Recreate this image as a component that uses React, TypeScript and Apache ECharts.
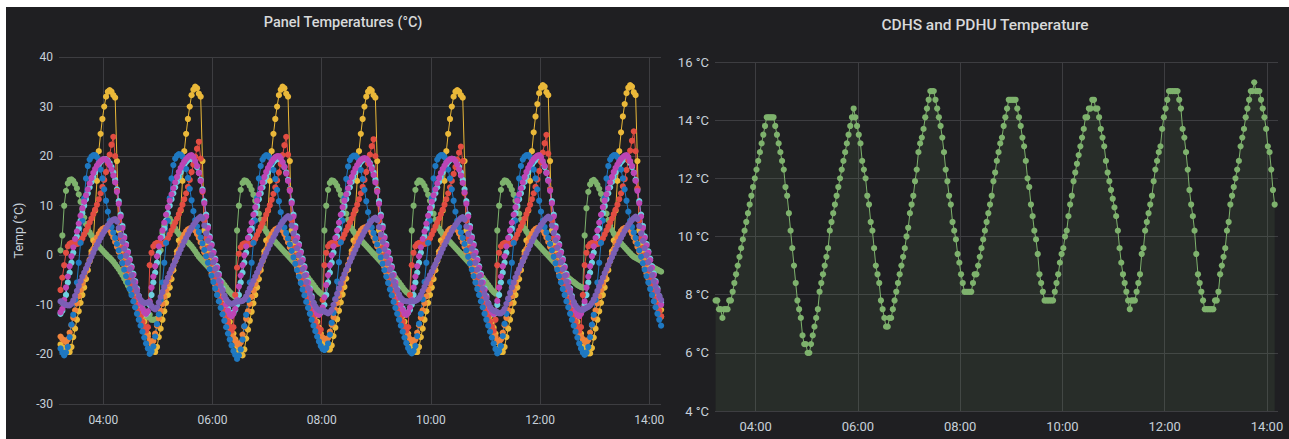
import React, { useEffect, useRef } from "react";
import * as echarts from "echarts";

// Time grid: one sample every 2 minutes starting 03:13 (minutes since midnight)
const START_MINUTE = 193;
const STEP_MINUTES = 2;
const timeTicks = [240, 360, 480, 600, 720, 840];

// ---------------- Left panel: Panel Temperatures (°C) ----------------
const panelGreen = [
  1, 4, 10, 13, 14.5, 15.2, 15.3, 15, 14.4, 13.5, 12.3, 10.8, 9.2, 7.6, 6.3, 5.3, 4.6, 4, 3.4, 2.8, 2.3, 1.8, 1.4, 1, 0.6, 0.2, -0.2, -0.5, -0.9, -1.3, -1.8, -2.3, -2.8, -3.4, -4, -4.7, -5.4, -6.1, -6.8, -7.5, -8.2, -8.9, -9.6, -10.3, -11, -11.6, -12, -12.3, -12.5,
  -12, -13, -13, -13, -12.8, -12.5, 1, 4.5, 6, 7, 7.6, 7.4, 6.8, 6.1, 5.4, 4.8, 4.3, 3.9, 3.5, 3.2, 2.9, 2.6, 2.2, 1.8, 1.3, 0.8, 0.2, -0.3, -0.7, -1.1, -1.5, -1.9, -2.3, -2.7, -3.1, -3.5, -3.9, -4.3, -4.7, -5.1, -5.5, -6, -6.5, -7, -7.4, -7.8, -8.1, -8.4,
  5, 10, 13.2, 14.6, 15.1, 15, 14.6, 14, 13.2, 12.2, 11, 9.7, 8.4, 7.2, 6.2, 5.4, 4.8, 4.3, 3.9, 3.5, 3.1, 2.7, 2.3, 1.9, 1.5, 1.1, 0.7, 0.3, -0.1, -0.5, -0.9, -1.3, -1.7, -2.1, -2.5, -2.9, -3.3, -3.7, -4.1, -4.5, -5, -5.5, -6, -6.5, -7, -7.4, -7.7, -8,
  5, 10, 13.2, 14.6, 15.1, 15, 14.6, 14, 13.2, 12.2, 11, 9.7, 8.4, 7.2, 6.2, 5.4, 4.8, 4.3, 3.9, 3.5, 3.1, 2.7, 2.3, 1.9, 1.5, 1.1, 0.7, 0.3, -0.1, -0.5, -0.9, -1.3, -1.7, -2.1, -2.5, -2.9, -3.3, -3.7, -4.1, -4.5, -5, -5.5, -6, -6.5, -7, -7.4, -7.7, -8,
  5, 10, 13.2, 14.6, 15.1, 15, 14.6, 14, 13.2, 12.2, 11, 9.7, 8.4, 7.2, 6.2, 5.4, 4.8, 4.3, 3.9, 3.5, 3.1, 2.7, 2.3, 1.9, 1.5, 1.1, 0.7, 0.3, -0.1, -0.5, -0.9, -1.3, -1.7, -2.1, -2.5, -2.9, -3.3, -3.7, -4.1, -4.5, -5, -5.5, -6, -6.5, -7, -7.4, -7.7,
  5, 10, 13.2, 14.6, 15.1, 15, 14.6, 14, 13.2, 12.2, 11, 9.7, 8.4, 7.2, 6.2, 5.4, 4.8, 4.3, 3.9, 3.5, 3.1, 2.7, 2.3, 1.9, 1.5, 1.1, 0.7, 0.3, -0.1, -0.5, -0.9, -1.3, -1.7, -2.1, -2.5, -2.9, -3.3, -3.7, -4.1, -4.5, -4.8, -5.1, -5.4, -5.7, -6, -6.2, -6.4, -6.5,
  4, 9.5, 12.8, 14.3, 15, 15.2, 14.8, 14.2, 13.4, 12.4, 11.2, 9.8, 8.4, 7.1, 6, 5.1, 4.4, 3.8, 3.3, 2.8, 2.4, 2, 1.6, 1.2, 0.8, 0.4, 0, -0.3, -0.5, -0.7, -0.9, -1.1, -1.3, -1.5, -1.7, -1.9, -2.1, -2.3, -2.5, -2.7, -2.9, -3.1, -3.3,
];

const panelYellow = [
  -18, -18.6,
  -18.8, -19.2, -19.5, -19.5, -18.5, -16.5, -14.8, -13, -11.3, -9.6, -8, -6.5, -4.8, -3, -1.2, 0.8, 3, 9, 15, 21, 24.5, 27.5, 30, 32, 33, 33.3, 33, 32.3, 31.8, 19, 5, 2.5, 1, -0.2, -1.4, -2.6, -3.8, -5, -6.2, -7.4, -8.6, -9.8, -11, -12.2, -13.4, -14.6, -15.8,
  -17.5, -18.5, -19.3, -19.5, -18.5, -16.5, -14.8, -13, -11.3, -9.6, -8, -6.5, -4.8, -3, -1.2, 0.8, 3, 9, 15, 21, 24.5, 27.5, 30, 32.3, 33.4, 34, 33.7, 32.6, 32, 19, 5, 2.5, 1, -0.2, -1.4, -2.6, -3.8, -5, -6.2, -7.4, -8.6, -9.8, -11, -12.2, -13.4, -14.6, -15.8, -17,
  -18.3, -19.3, -20, -20.2, -19, -16.8, -15, -13.2, -11.4, -9.7, -8, -6.5, -4.8, -3, -1.2, 0.8, 3, 9, 15, 21, 24.5, 27.5, 30, 32.3, 33.4, 34, 33.7, 32.6, 32, 19, 5, 2.5, 1, -0.2, -1.4, -2.6, -3.8, -5, -6.2, -7.4, -8.6, -9.8, -11, -12.2, -13.4, -14.6, -15.8, -17,
  -18, -18.7, -19, -19, -18.2, -16.3, -14.6, -12.9, -11.2, -9.5, -7.9, -6.4, -4.7, -2.9, -1.1, 0.9, 3, 9, 15, 21, 24.5, 27.5, 30, 32, 33, 33.5, 33.2, 32.3, 31.8, 19, 5, 2.5, 1, -0.2, -1.4, -2.6, -3.8, -5, -6.2, -7.4, -8.6, -9.8, -11, -12.2, -13.4, -14.6, -15.8, -17,
  -18.3, -19, -19.5, -19.5, -18.5, -16.5, -14.8, -13, -11.3, -9.6, -8, -6.5, -4.8, -3, -1.2, 0.8, 3, 9, 15, 21, 24.5, 27.5, 30, 32, 33, 33.3, 33, 32.3, 31.8, 19, 5, 2.5, 1, -0.2, -1.4, -2.6, -3.8, -5, -6.2, -7.4, -8.6, -9.8, -11, -12.2, -13.4, -14.6, -15.8,
  -17.5, -18.7, -19.5, -19.5, -18.5, -16.5, -14.8, -13, -11.3, -9.6, -8, -6.5, -4.8, -3, -1.2, 0.8, 3, 9, 15, 21, 24.8, 28, 30.5, 32.7, 33.8, 34.3, 34, 32.9, 32.3, 19, 5, 2.5, 1, -0.2, -1.4, -2.6, -3.8, -5, -6.2, -7.4, -8.6, -9.8, -11, -12.2, -13.4, -14.6, -15.8, -17,
  -18.3, -19.2, -19.8, -19.8, -18.7, -16.6, -14.8, -13, -11.3, -9.6, -8, -6.5, -4.8, -3, -1.2, 0.8, 3, 9, 15, 21, 24.8, 28, 30.5, 32.7, 33.8, 34.3, 34, 32.9, 32.3, 19, 5, 2.5, 1, -0.2, -1.4, -2.6, -3.8, -5, -6.2, -7.4, -8.6, -9.8, -11,
];

const panelLightBlue = [
  -11.8, -11.2,
  -10, -8, -5.5, -3.5, -1.5, 0.5, 2.2, 3.8, 5.4, 7, 8.5, 10, 11.3, 12.5, 13.7, 14.8, 15.8, 16.7, 17.5, 18.2, 18.8, 19.2, 19.4, 19.4, 19.1, 18.6, 17.8, 16.7, 15.2, 13.3, 10.9, 8.2, 5.9, 3.8, 2.3, 0.8, -0.7, -2.2, -3.7, -5.2, -6.7, -8.2, -9.6, -10.7, -11.5, -11.9, -11.6,
  -10, -8, -5.5, -3.5, -1.5, 0.5, 2.2, 3.8, 5.4, 7, 8.5, 10, 11.3, 12.5, 13.7, 14.8, 15.8, 16.7, 17.5, 18.2, 18.8, 19.2, 19.4, 19.4, 19.1, 18.6, 17.8, 16.7, 15.2, 13.3, 10.9, 8.2, 5.9, 3.8, 2.3, 0.8, -0.7, -2.2, -3.7, -5.2, -6.7, -8.2, -9.6, -10.7, -11.5, -11.9, -11.6, -11,
  -10, -8, -5.5, -3.5, -1.5, 0.5, 2.2, 3.8, 5.4, 7, 8.5, 10, 11.3, 12.5, 13.7, 14.8, 15.8, 16.7, 17.5, 18.2, 18.8, 19.2, 19.4, 19.4, 19.1, 18.6, 17.8, 16.7, 15.2, 13.3, 10.9, 8.2, 5.9, 3.8, 2.3, 0.8, -0.7, -2.2, -3.7, -5.2, -6.7, -8.2, -9.6, -10.7, -11.5, -11.9, -11.6, -11,
  -10, -8, -5.5, -3.5, -1.5, 0.5, 2.2, 3.8, 5.4, 7, 8.5, 10, 11.3, 12.5, 13.7, 14.8, 15.8, 16.7, 17.5, 18.2, 18.8, 19.2, 19.4, 19.4, 19.1, 18.6, 17.8, 16.7, 15.2, 13.3, 10.9, 8.2, 5.9, 3.8, 2.3, 0.8, -0.7, -2.2, -3.7, -5.2, -6.7, -8.2, -9.6, -10.7, -11.5, -11.9, -11.6, -11,
  -10, -8, -5.5, -3.5, -1.5, 0.5, 2.2, 3.8, 5.4, 7, 8.5, 10, 11.3, 12.5, 13.7, 14.8, 15.8, 16.7, 17.5, 18.2, 18.8, 19.2, 19.4, 19.4, 19.1, 18.6, 17.8, 16.7, 15.2, 13.3, 10.9, 8.2, 5.9, 3.8, 2.3, 0.8, -0.7, -2.2, -3.7, -5.2, -6.7, -8.2, -9.6, -10.7, -11.5, -11.9, -11.6,
  -10, -8, -5.5, -3.5, -1.5, 0.5, 2.2, 3.8, 5.4, 7, 8.5, 10, 11.3, 12.5, 13.7, 14.8, 15.8, 16.7, 17.5, 18.2, 18.8, 19.2, 19.4, 19.4, 19.1, 18.6, 17.8, 16.7, 15.2, 13.3, 10.9, 8.2, 5.9, 3.8, 2.3, 0.8, -0.7, -2.2, -3.7, -5.2, -6.7, -8.2, -9.6, -10.7, -11.5, -11.9, -11.6, -11,
  -10, -8, -5.5, -3.5, -1.5, 0.5, 2.2, 3.8, 5.4, 7, 8.5, 10, 11.3, 12.5, 13.7, 14.8, 15.8, 16.7, 17.5, 18.2, 18.8, 19.2, 19.4, 19.4, 19.1, 18.6, 17.8, 16.7, 15.2, 13.3, 10.9, 8.2, 5.9, 3.8, 2.3, 0.8, -0.7, -2.2, -3.7, -5.2, -6.7, -8.2, -9.6,
];

const panelOrange = [
  -16.4, -16.9,
  -17.2, -17.5, -17, -15.6, -14.1, -12.6, -11.1, -9.7, -8.3, -7, -5.7, -4.4, -3.2, -2, -0.9, 0.2, 1.3, 2.5, 3.6, 4.3, 4.9, 5.3, 5.5, 5.6, 5.5, 5.1, 4.4, 3.6, 2.7, 1.7, 0.7, -0.3, -1.4, -2.5, -3.6, -4.7, -5.8, -6.9, -8, -9.1, -10.2, -11.3, -12.4, -13.5, -14.6, -15.6, -16.4,
  -17.3, -17.8, -17.3, -15.8, -14.2, -12.7, -11.2, -9.8, -8.4, -7.1, -5.8, -4.5, -3.3, -2.1, -1, 0.1, 1.2, 2.4, 3.5, 4.2, 4.8, 5.2, 5.4, 5.5, 5.4, 5, 4.3, 3.5, 2.6, 1.6, 0.6, -0.4, -1.5, -2.6, -3.7, -4.8, -5.9, -7, -8.1, -9.2, -10.3, -11.4, -12.5, -13.6, -14.7, -15.7, -16.6, -17.3,
  -17.9, -18.2, -17.6, -16, -14.4, -12.8, -11.3, -9.8, -8.4, -7.1, -5.8, -4.5, -3.3, -2.1, -1, 0.1, 1.2, 2.4, 3.5, 4.2, 4.8, 5.2, 5.4, 5.5, 5.4, 5, 4.3, 3.5, 2.6, 1.6, 0.6, -0.4, -1.5, -2.6, -3.7, -4.8, -5.9, -7, -8.1, -9.2, -10.3, -11.4, -12.5, -13.6, -14.6, -15.5, -16.2, -16.6,
  -16.8, -17.1, -16.7, -15.4, -14, -12.5, -11, -9.6, -8.2, -6.9, -5.6, -4.3, -3.1, -1.9, -0.8, 0.3, 1.4, 2.6, 3.7, 4.4, 5, 5.4, 5.6, 5.7, 5.6, 5.2, 4.5, 3.7, 2.8, 1.8, 0.8, -0.2, -1.3, -2.4, -3.5, -4.6, -5.7, -6.8, -7.9, -9, -10.1, -11.2, -12.3, -13.4, -14.5, -15.5, -16.3, -16.9,
  -17.2, -17.5, -17, -15.6, -14.1, -12.6, -11.1, -9.7, -8.3, -7, -5.7, -4.4, -3.2, -2, -0.9, 0.2, 1.3, 2.5, 3.6, 4.3, 4.9, 5.3, 5.5, 5.6, 5.5, 5.1, 4.4, 3.6, 2.7, 1.7, 0.7, -0.3, -1.4, -2.5, -3.6, -4.7, -5.8, -6.9, -8, -9.1, -10.2, -11.3, -12.4, -13.5, -14.6, -15.6, -16.4,
  -17.2, -17.5, -17, -15.6, -14.1, -12.6, -11.1, -9.7, -8.3, -7, -5.7, -4.4, -3.2, -2, -0.9, 0.2, 1.3, 2.5, 3.6, 4.3, 4.9, 5.3, 5.5, 5.6, 5.5, 5.1, 4.4, 3.6, 2.7, 1.7, 0.7, -0.3, -1.4, -2.5, -3.6, -4.7, -5.8, -6.9, -8, -9.1, -10.2, -11.3, -12.4, -13.5, -14.6, -15.6, -16.4, -16.9,
  -17.4, -17.7, -17.1, -15.6, -14.1, -12.6, -11.1, -9.7, -8.3, -7, -5.7, -4.4, -3.2, -2, -0.9, 0.2, 1.3, 2.5, 3.6, 4.3, 4.9, 5.3, 5.5, 5.6, 5.5, 5.1, 4.4, 3.6, 2.7, 1.7, 0.7, -0.3, -1.4, -2.5, -3.6, -4.7, -5.8, -6.9, -8, -9.1, -10.2, -11.3, -12.4,
];

const panelRed = [
  -7, -4.5,
  -2, 0.5, 1.8, 2.3, 2.5, 2.5, 2.4, 2.3, 2.4, 2.8, 3.4, 4.2, 5, 5.8, 6.6, 7.4, 8.3, 9.2, 10.2, 11.3, 12.5, 13.8, 15.2, 16.8, 18.5, 20.3, 22.3, 23.9, 20, 13, 7, 3.5, 1.5, 0, -1.5, -3, -4.5, -6, -7.4, -8.8, -10, -11.2, -12.3, -13.4, -14.4, -15.2, -14.5,
  -2, 0.5, 1.8, 2.3, 2.5, 2.5, 2.4, 2.3, 2.4, 2.8, 3.4, 4.2, 5, 5.8, 6.6, 7.4, 8.3, 9.2, 10.2, 11.3, 12.5, 13.8, 15.2, 16.8, 18.3, 19.9, 21.5, 22.9, 19.5, 12.8, 7, 3.5, 1.5, 0, -1.5, -3, -4.5, -6, -7.4, -8.8, -10, -11.2, -12.3, -13.4, -14.4, -15.2, -14.5, -8,
  -2.5, 0.3, 1.6, 2.2, 2.4, 2.4, 2.3, 2.2, 2.3, 2.7, 3.3, 4.1, 4.9, 5.7, 6.5, 7.3, 8.2, 9.1, 10.1, 11.2, 12.4, 13.7, 15.1, 16.7, 18.4, 20.2, 22.2, 23.9, 20.3, 13.2, 7, 3.5, 1.5, 0, -1.5, -3, -4.5, -6, -7.4, -8.8, -10, -11.2, -12.3, -13.4, -14.4, -15.4, -15, -9,
  -2, 0.5, 1.8, 2.3, 2.5, 2.5, 2.4, 2.3, 2.4, 2.8, 3.4, 4.2, 5, 5.8, 6.6, 7.4, 8.3, 9.2, 10.2, 11.3, 12.5, 13.8, 15.2, 16.8, 18.5, 20.3, 22, 23.4, 20, 13, 7, 3.5, 1.5, 0, -1.5, -3, -4.5, -6, -7.4, -8.8, -10, -11.2, -12.3, -13.4, -14.4, -15.2, -14.5, -8,
  -2, 0.5, 1.8, 2.3, 2.5, 2.5, 2.4, 2.3, 2.4, 2.8, 3.4, 4.2, 5, 5.8, 6.6, 7.4, 8.3, 9.2, 10.2, 11.3, 12.5, 13.7, 15, 16.4, 17.8, 19.3, 20.7, 21.9, 19, 12.5, 7, 3.5, 1.5, 0, -1.5, -3, -4.5, -6, -7.4, -8.8, -10, -11.2, -12.3, -13.4, -14.4, -15.2, -13,
  -2, 0.5, 1.8, 2.3, 2.5, 2.5, 2.4, 2.3, 2.4, 2.8, 3.4, 4.2, 5, 5.8, 6.6, 7.4, 8.3, 9.2, 10.2, 11.3, 12.5, 13.8, 15.3, 17, 18.8, 20.7, 22.6, 24.3, 20.5, 13.3, 7, 3.5, 1.5, 0, -1.5, -3, -4.5, -6, -7.4, -8.8, -10, -11.2, -12.3, -13.4, -14.4, -15.2, -14.5, -8,
  -2, 0.5, 1.8, 2.3, 2.5, 2.5, 2.4, 2.3, 2.4, 2.8, 3.4, 4.2, 5, 5.8, 6.6, 7.4, 8.3, 9.2, 10.2, 11.3, 12.5, 13.9, 15.4, 17.2, 19.1, 21.1, 23.1, 25, 21, 13.5, 7, 3.5, 1.5, 0, -1.5, -3, -4.5, -6, -7.4, -8.8, -10, -11.2, -12.3,
];

const panelBlue = [
  -18.8, -19.6,
  -20.2, -19.6, -18.5, -16.5, -14, -12, -9, -5.5, -1.5, 2.5, 7, 11.5, 15.5, 18, 19.3, 19.9, 20.2, 20.2, 19.8, 18.8, 17.3, 15.5, 13.3, 11, 8.8, 7, 5.7, 4.6, 3.5, 2.3, 1, -0.3, -1.6, -2.9, -4.2, -5.5, -6.8, -8, -9.3, -10.5, -11.8, -13, -14.2, -15.4, -16.6, -17.8, -18.8,
  -19.9, -19.4, -18.4, -16.4, -13.9, -11.9, -9, -5.5, -1.5, 2.5, 7, 11.5, 15.5, 18.2, 19.5, 20.1, 20.4, 20.3, 19.9, 18.9, 17.4, 15.6, 13.4, 11.1, 8.9, 7.1, 5.8, 4.7, 3.6, 2.4, 1.1, -0.2, -1.5, -2.8, -4.1, -5.4, -6.7, -8, -9.3, -10.6, -11.9, -13.2, -14.5, -15.8, -17, -18.2, -19.3, -20.1,
  -20.9, -20.2, -19, -17, -14.3, -12, -9, -5.5, -1.5, 2.5, 7, 11.5, 15.5, 18, 19.3, 19.9, 20.2, 20.1, 19.7, 18.7, 17.2, 15.4, 13.2, 10.9, 8.7, 6.9, 5.6, 4.5, 3.4, 2.2, 0.9, -0.4, -1.7, -3, -4.3, -5.6, -6.9, -8.1, -9.4, -10.6, -11.8, -13, -14.2, -15.3, -16.4, -17.4, -18.3, -18.9,
  -19.1, -18.7, -17.8, -16, -13.6, -11.6, -8.8, -5.3, -1.4, 2.6, 7, 11.5, 15.4, 17.9, 19.2, 19.8, 20.1, 20.1, 19.7, 18.7, 17.2, 15.4, 13.2, 10.9, 8.7, 6.9, 5.6, 4.5, 3.4, 2.2, 0.9, -0.4, -1.7, -3, -4.3, -5.6, -6.9, -8.1, -9.4, -10.6, -11.8, -13, -14.2, -15.4, -16.6, -17.7, -18.7, -19.4,
  -19.8, -19.3, -18.3, -16.3, -13.8, -11.8, -8.9, -5.4, -1.5, 2.5, 7, 11.5, 15.5, 18, 19.3, 19.9, 20.2, 20.2, 19.8, 18.8, 17.3, 15.5, 13.3, 11, 8.8, 7, 5.7, 4.6, 3.5, 2.3, 1, -0.3, -1.6, -2.9, -4.2, -5.5, -6.8, -8, -9.3, -10.5, -11.8, -13, -14.2, -15.4, -16.6, -17.8, -18.9,
  -19.8, -19.3, -18.3, -16.3, -13.8, -11.8, -8.9, -5.4, -1.5, 2.5, 7, 11.5, 15.5, 18, 19.3, 19.9, 20.2, 20.2, 19.8, 18.8, 17.3, 15.5, 13.3, 11, 8.8, 7, 5.7, 4.6, 3.5, 2.3, 1, -0.3, -1.6, -2.9, -4.2, -5.5, -6.8, -8, -9.3, -10.5, -11.8, -13, -14.2, -15.4, -16.6, -17.8, -18.8, -19.6,
  -20.1, -19.6, -18.5, -16.5, -14, -12, -9, -5.5, -1.5, 2.5, 7, 11.5, 15.5, 18, 19.3, 19.9, 20.2, 20.2, 19.8, 18.8, 17.3, 15.5, 13.3, 11, 8.8, 7, 5.7, 4.6, 3.5, 2.3, 1, -0.3, -1.6, -2.9, -4.2, -5.5, -6.8, -8, -9.3, -10.5, -11.8, -13, -14.2,
];

const panelMagenta = [
  -11.5, -10.8,
  -9, -6.5, -4.3, -2.2, -0.2, 1.6, 3.3, 4.8, 6.4, 8, 9.5, 10.8, 12.1, 13.3, 14.5, 15.6, 16.6, 17.4, 18.1, 18.6, 19, 19.3, 19.4, 19.3, 18.9, 18.2, 17.3, 16.1, 14.7, 12.8, 10.4, 7.8, 5.5, 3.5, 2, 0.5, -1, -2.5, -4, -5.5, -7, -8.5, -9.8, -10.8, -11.5, -11.8, -11.3,
  -9.3, -6.5, -4.3, -2.2, -0.2, 1.8, 3.5, 5, 6.6, 8.2, 9.7, 11, 12.3, 13.5, 14.7, 15.8, 16.8, 17.6, 18.3, 18.9, 19.4, 19.8, 20.1, 20.2, 19.8, 19, 18, 16.6, 15, 13, 10.5, 7.8, 5.5, 3.5, 2, 0.5, -1, -2.5, -4, -5.5, -7, -8.5, -10, -11.2, -12, -12.3, -11.8, -10.8,
  -9, -6.3, -4.1, -2, 0, 1.8, 3.5, 5, 6.6, 8.2, 9.7, 11, 12.3, 13.5, 14.7, 15.8, 16.8, 17.6, 18.3, 18.9, 19.4, 19.8, 20, 20, 19.6, 18.8, 17.8, 16.5, 15, 13, 10.5, 7.8, 5.5, 3.5, 2, 0.5, -1, -2.5, -4, -5.5, -7, -8.5, -10, -11, -11.8, -12, -11.5, -10.5,
  -8.5, -6, -4, -2, 0, 1.8, 3.5, 5, 6.6, 8.2, 9.7, 11, 12.3, 13.5, 14.7, 15.8, 16.7, 17.5, 18.2, 18.8, 19.2, 19.5, 19.6, 19.5, 19.1, 18.4, 17.4, 16.2, 14.7, 12.8, 10.4, 7.8, 5.5, 3.5, 2, 0.5, -1, -2.5, -4, -5.5, -7, -8.5, -10, -11, -11.8, -12, -11.5, -10.5,
  -9, -6.5, -4.3, -2.2, -0.2, 1.6, 3.3, 4.8, 6.4, 8, 9.5, 10.8, 12.1, 13.3, 14.5, 15.6, 16.6, 17.4, 18.1, 18.7, 19.1, 19.4, 19.5, 19.4, 19, 18.3, 17.3, 16.1, 14.6, 12.7, 10.4, 7.8, 5.5, 3.5, 2, 0.5, -1, -2.5, -4, -5.5, -7, -8.5, -9.8, -10.8, -11.5, -11.8, -11.3,
  -9.2, -6.5, -4.3, -2.2, -0.2, 1.8, 3.5, 5, 6.6, 8.2, 9.7, 11, 12.3, 13.5, 14.7, 15.8, 16.8, 17.6, 18.3, 18.9, 19.4, 19.8, 20.1, 20.2, 19.8, 19, 18, 16.6, 15, 13, 10.5, 7.8, 5.5, 3.5, 2, 0.5, -1, -2.5, -4, -5.5, -7, -8.5, -10, -11.2, -12, -12.3, -11.8, -10.8,
  -9.3, -6.5, -4.3, -2.2, -0.2, 1.8, 3.5, 5, 6.6, 8.2, 9.7, 11, 12.3, 13.5, 14.7, 15.8, 16.8, 17.6, 18.3, 18.9, 19.4, 19.8, 20.1, 20.2, 19.8, 19, 18, 16.6, 15, 13, 10.5, 7.8, 5.5, 3.5, 2, 0.5, -1, -2.5, -4, -5.5, -7, -8.5, -10,
];

const panelPurple = [
  -9.3, -9.6,
  -9.8, -10, -10.1, -10.1, -9.8, -9.1, -8.2, -7.2, -6.2, -5.2, -4.3, -3.5, -2.7, -1.9, -1.1, -0.3, 0.5, 1.3, 2.1, 2.8, 3.5, 4.2, 4.8, 5.4, 6, 6.5, 6.9, 7.2, 7.3, 6.8, 5.5, 4.1, 2.7, 1.3, -0.1, -1.5, -2.8, -4, -5.2, -6.3, -7.3, -8.2, -9, -9.4, -9.6, -9.6, -9.5,
  -9.6, -10.2, -10.7, -10.9, -10.5, -9.5, -8.4, -7.4, -6.4, -5.4, -4.5, -3.6, -2.8, -2, -1.2, -0.4, 0.4, 1.2, 2, 2.8, 3.5, 4.2, 4.9, 5.5, 6.1, 6.6, 7.1, 7.5, 7.8, 7.4, 6, 4.4, 2.9, 1.4, 0, -1.4, -2.7, -3.9, -5.1, -6.2, -7.2, -8.1, -8.9, -9.4, -9.7, -9.8, -9.7, -9.5,
  -9.3, -9.3, -9.3, -9.2, -8.9, -8.3, -7.5, -6.7, -5.9, -5.1, -4.3, -3.5, -2.7, -1.9, -1.1, -0.3, 0.5, 1.3, 2.1, 2.9, 3.6, 4.3, 5, 5.6, 6.2, 6.7, 7.2, 7.6, 7.9, 7.5, 6, 4.4, 2.9, 1.4, 0, -1.4, -2.8, -4.1, -5.4, -6.6, -7.7, -8.7, -9.6, -10.3, -10.8, -11.1, -11.2, -11.1,
  -11.3, -11.5, -11.7, -11.5, -11, -10, -8.9, -7.8, -6.7, -5.7, -4.7, -3.8, -2.9, -2.1, -1.3, -0.5, 0.3, 1.1, 1.9, 2.7, 3.4, 4.1, 4.8, 5.4, 6, 6.5, 7, 7.4, 7.6, 7.1, 5.7, 4.2, 2.7, 1.2, -0.2, -1.6, -2.9, -4.1, -5.2, -6.2, -7.1, -7.9, -8.6, -9, -9.2, -9.3, -9.3, -9.3,
  -9.3, -9.3, -9.2, -9, -8.6, -8, -7.2, -6.4, -5.6, -4.8, -4, -3.3, -2.5, -1.8, -1, -0.3, 0.5, 1.3, 2.1, 2.8, 3.5, 4.2, 4.9, 5.5, 6.1, 6.6, 7.1, 7.5, 7.7, 7.2, 5.8, 4.3, 2.8, 1.3, -0.1, -1.5, -2.9, -4.2, -5.5, -6.7, -7.8, -8.8, -9.7, -10.4, -10.9, -11.2, -11.3,
  -11.5, -11.7, -11.7, -11.4, -10.8, -9.8, -8.7, -7.6, -6.5, -5.5, -4.5, -3.6, -2.8, -2, -1.2, -0.4, 0.4, 1.2, 2, 2.8, 3.5, 4.2, 4.9, 5.5, 6.1, 6.6, 7.1, 7.5, 7.8, 7.4, 6, 4.5, 3, 1.5, 0, -1.4, -2.8, -4.1, -5.3, -6.4, -7.5, -8.5, -9.4, -10.1, -10.6, -10.9, -11, -11,
  -10.8, -10.6, -10.4, -10.1, -9.6, -8.9, -8.1, -7.2, -6.3, -5.4, -4.5, -3.6, -2.8, -2, -1.2, -0.4, 0.4, 1.2, 2, 2.8, 3.5, 4.2, 4.9, 5.5, 6.1, 6.6, 7.1, 7.5, 7.8, 7.3, 5.9, 4.4, 2.9, 1.4, 0, -1.4, -2.8, -4, -5.2, -6.3, -7.3, -8.2, -9,
];

// ---------------- Right panel: CDHS and PDHU Temperature ----------------
const cdhsTemp = [
  7.8, 7.8, 7.5, 7.5, 7.2, 7.5, 7.5, 7.5, 7.8, 7.8,
  8.1, 8.4, 8.7, 9.0, 9.3, 9.6, 9.9, 10.2, 10.5, 10.8,
  11.1, 11.4, 11.7, 12.0, 12.3, 12.6, 12.9, 13.2, 13.5, 13.8,
  14.1, 14.1, 14.1, 14.1, 14.1, 13.8, 13.5, 13.2, 12.9, 12.6,
  12.3, 11.7, 11.4, 10.8, 10.2, 9.6, 9.0, 8.4, 7.8, 7.5,
  7.2, 6.6, 6.3, 6.3, 6.0, 6.0, 6.3, 6.6, 6.9, 7.2,
  7.5, 8.1, 8.4, 8.7, 9.0, 9.3, 9.6, 10.2, 10.5, 10.8,
  11.1, 11.4, 11.7, 12.0, 12.3, 12.6, 12.9, 13.2, 13.5, 13.8,
  14.1, 14.4, 14.1, 13.8, 13.5, 13.2, 12.6, 12.3, 12.0, 11.4,
  11.1, 10.5, 10.2, 9.6, 9.0, 8.7, 8.4, 7.8, 7.5, 7.2,
  6.9, 6.9, 7.2, 7.2, 7.5, 7.8, 8.1, 8.4, 8.7, 9.0,
  9.3, 9.6, 10.0, 10.3, 10.8, 11.1, 11.4, 11.9, 12.3, 12.9,
  13.2, 13.4, 13.7, 14.1, 14.4, 14.7, 15.0, 15.0, 15.0, 14.7,
  14.4, 14.1, 13.8, 13.4, 12.9, 12.3, 11.9, 11.4, 11.1, 10.5,
  10.2, 9.9, 9.4, 9.1, 8.7, 8.4, 8.1, 8.1, 8.1, 8.1,
  8.1, 8.4, 8.7, 8.7, 9.0, 9.3, 9.6, 9.9, 10.2, 10.5,
  10.8, 11.1, 11.4, 11.9, 12.2, 12.6, 12.9, 13.2, 13.4, 13.8,
  14.1, 14.4, 14.7, 14.7, 14.7, 14.7, 14.7, 14.4, 14.1, 13.8,
  13.4, 13.1, 12.6, 12.0, 11.7, 11.1, 10.7, 10.2, 9.9, 9.4,
  8.7, 8.4, 8.1, 7.8, 7.8, 7.8, 7.8, 7.8, 7.8, 8.1,
  8.4, 8.7, 9.1, 9.4, 9.6, 10.0, 10.2, 10.7, 11.1, 11.4,
  11.9, 12.2, 12.5, 12.8, 13.1, 13.4, 13.7, 14.1, 14.1, 14.4,
  14.4, 14.7, 14.7, 14.4, 14.4, 14.1, 13.7, 13.4, 13.1, 12.6,
  12.2, 11.9, 11.6, 11.3, 11.0, 10.7, 10.2, 9.6, 9.1, 8.7,
  8.4, 8.1, 7.8, 7.5, 7.8, 7.8, 7.8, 8.1, 8.4, 8.7,
  9.4, 9.6, 10.2, 10.5, 10.8, 11.1, 11.4, 11.9, 12.3, 12.6,
  12.9, 13.1, 13.7, 14.1, 14.4, 14.7, 15.0, 15.0, 15.0, 15.0,
  15.0, 15.0, 14.7, 14.4, 13.7, 13.4, 12.9, 12.3, 11.6, 11.1,
  10.7, 10.2, 9.4, 8.7, 8.4, 8.1, 7.8, 7.5, 7.5, 7.5,
  7.5, 7.5, 7.5, 7.8, 7.8, 8.1, 8.7, 9.0, 9.3, 9.6,
  10.2, 10.5, 11.1, 11.4, 11.7, 12.0, 12.3, 12.6, 13.1, 13.4,
  13.7, 14.1, 14.4, 14.7, 15.0, 15.0, 15.3, 15.0, 15.0, 15.0,
  14.7, 14.4, 14.1, 13.7, 13.1, 12.9, 12.3, 11.6, 11.1,
];

const leftSeries = [
  { name: "Panel A", values: panelGreen, color: "#7EB26D" },
  { name: "Panel B", values: panelYellow, color: "#EAB839" },
  { name: "Panel C", values: panelLightBlue, color: "#6ED0E0" },
  { name: "Panel D", values: panelOrange, color: "#EF843C" },
  { name: "Panel E", values: panelRed, color: "#E24D42" },
  { name: "Panel F", values: panelBlue, color: "#1F78C1" },
  { name: "Panel G", values: panelMagenta, color: "#BC45B4" },
  { name: "Panel H", values: panelPurple, color: "#7B5FB5" },
];

const LABEL_COLOR = "#c7d0d9";
const GRID_COLOR = "#3d3d41";
const FONT = "Roboto, 'Noto Sans', sans-serif";

function toPoints(values: number[]) {
  return values.map((v, i) => [START_MINUTE + i * STEP_MINUTES, v]);
}

function fmtTime(v: number) {
  const h = Math.floor(v / 60);
  const m = Math.round(v - h * 60);
  return `${String(h).padStart(2, "0")}:${String(m).padStart(2, "0")}`;
}

function lineSeries(name: string, values: number[], color: string, idx: number, size: number, area: boolean) {
  const s: any = {
    name,
    type: "line",
    xAxisIndex: idx,
    yAxisIndex: idx,
    data: toPoints(values),
    symbol: "circle",
    symbolSize: size,
    showSymbol: true,
    showAllSymbol: true,
    lineStyle: { color, width: 1 },
    itemStyle: { color },
    emphasis: { disabled: true },
    silent: true,
  };
  if (area) s.areaStyle = { color, opacity: 0.1, origin: "start" };
  return s;
}

function timeAxis(gridIndex: number, min: number, max: number, fontSize: number, margin: number) {
  return {
    type: "value",
    gridIndex,
    min,
    max,
    axisLine: { show: false },
    axisTick: { show: false, customValues: timeTicks },
    axisLabel: {
      color: LABEL_COLOR,
      fontFamily: FONT,
      fontSize,
      margin,
      customValues: timeTicks,
      formatter: (v: number) => fmtTime(v),
    },
    splitLine: { show: true, lineStyle: { color: GRID_COLOR, width: 1 } },
  };
}

export default function App() {
  const ref = useRef<HTMLDivElement>(null);

  useEffect(() => {
    if (!ref.current) return;
    const chart = echarts.init(ref.current, undefined, { renderer: "svg" });
    const option: any = {
      animation: false,
      backgroundColor: "transparent",
      graphic: [
        {
          type: "text",
          x: 343,
          y: 22,
          style: {
            text: "Panel Temperatures (°C)",
            fill: "#d8d9da",
            font: `500 14.5px ${FONT}`,
            align: "center",
            verticalAlign: "middle",
            textAlign: "center",
            textVerticalAlign: "middle",
          },
        },
        {
          type: "text",
          x: 985,
          y: 25,
          style: {
            text: "CDHS and PDHU Temperature",
            fill: "#d8d9da",
            font: `500 15.5px ${FONT}`,
            align: "center",
            verticalAlign: "middle",
            textAlign: "center",
            textVerticalAlign: "middle",
          },
        },
      ],
      grid: [
        { left: 59, top: 57, width: 602, height: 347 },
        { left: 715, top: 62, width: 563, height: 349 },
      ],
      xAxis: [timeAxis(0, 191.3, 852.9, 12, 10), timeAxis(1, 192.3, 852.9, 13, 9)],
      yAxis: [
        {
          type: "value",
          gridIndex: 0,
          min: -30,
          max: 40,
          interval: 10,
          axisLine: { show: false },
          axisTick: { show: false },
          axisLabel: { color: LABEL_COLOR, fontFamily: FONT, fontSize: 12, margin: 6 },
          splitLine: { show: true, lineStyle: { color: GRID_COLOR, width: 1 } },
          name: "Temp (°C)",
          nameLocation: "middle",
          nameGap: 34,
          nameTextStyle: { color: LABEL_COLOR, fontFamily: FONT, fontSize: 12.5 },
        },
        {
          type: "value",
          gridIndex: 1,
          min: 4,
          max: 16,
          interval: 2,
          axisLine: { show: false },
          axisTick: { show: false },
          axisLabel: { color: LABEL_COLOR, fontFamily: FONT, fontSize: 13, margin: 6, formatter: "{value} °C" },
          splitLine: { show: true, lineStyle: { color: GRID_COLOR, width: 1 } },
        },
      ],
      series: [
        ...leftSeries.map((s) => lineSeries(s.name, s.values, s.color, 0, 6.2, false)),
        lineSeries("CDHS / PDHU", cdhsTemp, "#7EB26D", 1, 6.2, true),
      ],
    };
    chart.setOption(option);
    return () => chart.dispose();
  }, []);

  return (
    <div
      style={{
        position: "fixed",
        left: 0,
        top: 0,
        width: 1289,
        height: 439,
        background: "#ffffff",
        overflow: "hidden",
      }}
    >
      <div style={{ position: "absolute", left: 6, top: 7, width: 1283, height: 432, background: "#1f1f22" }} />
      <div ref={ref} style={{ position: "absolute", left: 0, top: 0, width: 1289, height: 439 }} />
    </div>
  );
}
